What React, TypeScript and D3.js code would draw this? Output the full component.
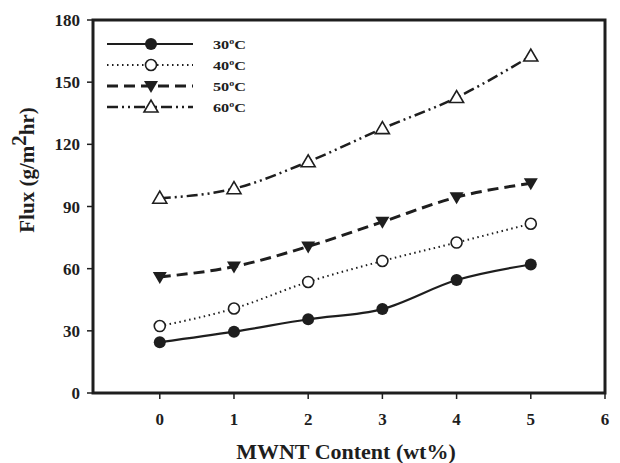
import React from 'react';
import * as d3 from 'd3';

const mwnt = [0, 1, 2, 3, 4, 5];
const flux30 = [24.5, 29.6, 35.6, 40.5, 54.5, 62];
const flux40 = [32.3, 40.8, 53.6, 63.7, 72.6, 81.7];
const flux50 = [56, 61, 70.7, 82.6, 94.5, 101.2];
const flux60 = [94, 98.6, 111.6, 127.6, 142.6, 162.6];
const seriesLabels = ['30', '40', '50', '60'];
const xTicks = [0, 1, 2, 3, 4, 5, 6];
const yTicks = [0, 30, 60, 90, 120, 150, 180];

const W = 620;
const H = 463;
const margin = { top: 20, right: 15, bottom: 70, left: 93 };
const ink = '#1e1e1e';
const font = '"Liberation Serif", "Times New Roman", serif';

type Marker = 'filledCircle' | 'openCircle' | 'filledDown' | 'openUp';

const styles: { dash: string; width: number; marker: Marker }[] = [
  { dash: 'none', width: 2.2, marker: 'filledCircle' },
  { dash: '1.5,3.5', width: 2, marker: 'openCircle' },
  { dash: '11,6', width: 3, marker: 'filledDown' },
  { dash: '11,4,2,4,2,4', width: 2.5, marker: 'openUp' },
];

function MarkerShape({ kind, x, y }: { kind: Marker; x: number; y: number }) {
  if (kind === 'filledCircle') return <circle cx={x} cy={y} r={6} fill={ink} />;
  if (kind === 'openCircle') return <circle cx={x} cy={y} r={5.5} fill="#fff" stroke={ink} strokeWidth={1.6} />;
  if (kind === 'filledDown') {
    const p = d3.path();
    p.moveTo(x - 7, y - 5); p.lineTo(x + 7, y - 5); p.lineTo(x, y + 7); p.closePath();
    return <path d={p.toString()} fill={ink} />;
  }
  const p = d3.path();
  p.moveTo(x - 7, y + 5); p.lineTo(x + 7, y + 5); p.lineTo(x, y - 7); p.closePath();
  return <path d={p.toString()} fill="#fff" stroke={ink} strokeWidth={1.6} />;
}

export default function App() {
  const series = [flux30, flux40, flux50, flux60];
  const x = d3.scaleLinear().domain([-0.9, 6]).range([margin.left, W - margin.right]);
  const y = d3.scaleLinear().domain([0, 180]).range([H - margin.bottom, margin.top]);
  const line = d3.line<number>()
    .x((_, i) => x(mwnt[i]))
    .y(d => y(d))
    .curve(d3.curveMonotoneX);

  const x0 = x.range()[0], x1 = x.range()[1];
  const y0 = y.range()[0], y1 = y.range()[1];

  const legX1 = 107, legX2 = 193, legMid = 151;
  const legY = [44, 65, 86, 107];

  return (
    <svg width={W} height={H} style={{ position: 'absolute', left: 0, top: 0, background: '#fff' }} fontFamily={font}>
      {/* series */}
      {series.map((s, k) => (
        <path key={'l' + k} d={line(s) || ''} fill="none" stroke={ink}
          strokeWidth={styles[k].width} strokeDasharray={styles[k].dash} />
      ))}
      {series.map((s, k) => s.map((v, i) => (
        <MarkerShape key={`m${k}-${i}`} kind={styles[k].marker} x={x(mwnt[i])} y={y(v)} />
      )))}

      {/* frame */}
      <rect x={x0} y={y1} width={x1 - x0} height={y0 - y1} fill="none" stroke={ink} strokeWidth={3} />

      {/* x axis */}
      {xTicks.map(t => (
        <g key={'xt' + t}>
          <line x1={x(t)} x2={x(t)} y1={y0} y2={y0 + 6} stroke={ink} strokeWidth={1.5} />
          <text x={x(t)} y={425} textAnchor="middle" fontSize={17} fontWeight="bold" fill={ink}>{t}</text>
        </g>
      ))}
      {/* y axis */}
      {yTicks.map(t => (
        <g key={'yt' + t}>
          <line x1={x0 - 6} x2={x0} y1={y(t)} y2={y(t)} stroke={ink} strokeWidth={1.5} />
          <text x={x0 - 13} y={y(t) + 6} textAnchor="end" fontSize={17} fontWeight="bold" fill={ink}>{t}</text>
        </g>
      ))}

      <text x={346} y={459} textAnchor="middle" fontSize={22} fontWeight="bold" fill={ink}>MWNT Content (wt%)</text>
      <text transform="translate(34,170) rotate(-90)" textAnchor="middle" fontSize={21} fontWeight="bold" fill={ink}>
        Flux (g/m<tspan dy={-8}>2</tspan><tspan dy={8}>hr)</tspan>
      </text>

      {/* legend */}
      {seriesLabels.map((lab, k) => (
        <g key={'lg' + k}>
          <line x1={legX1} x2={legX2} y1={legY[k]} y2={legY[k]} stroke={ink}
            strokeWidth={styles[k].width} strokeDasharray={styles[k].dash} />
          <MarkerShape kind={styles[k].marker} x={legMid} y={legY[k]} />
          <text transform={`translate(213,${legY[k] + 5}) scale(1.25,1)`} fontSize={13} fontWeight="bold" fill={ink}>
            {lab}<tspan dy={-5} fontSize={8}>o</tspan><tspan dy={5}>C</tspan>
          </text>
        </g>
      ))}
    </svg>
  );
}
